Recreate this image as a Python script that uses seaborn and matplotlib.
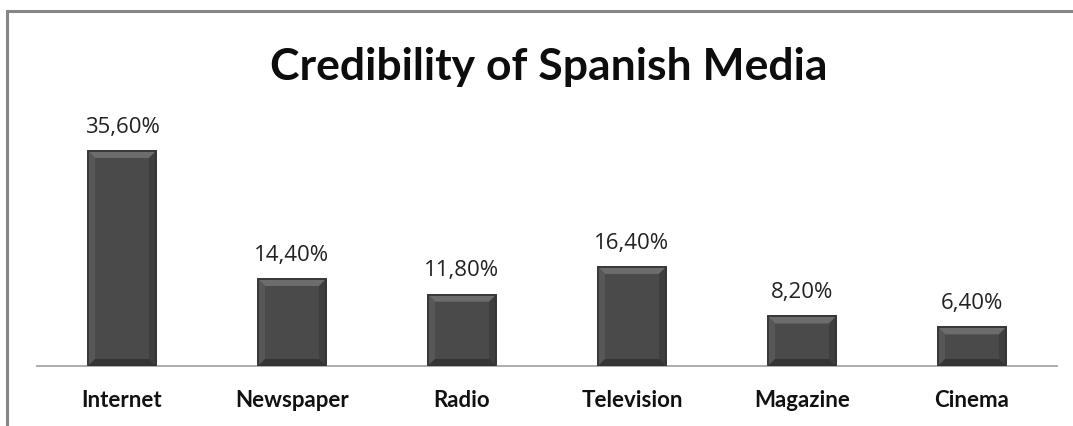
import matplotlib
matplotlib.use("Agg")
import matplotlib.pyplot as plt
import seaborn as sns
import pandas as pd
from matplotlib.patches import Rectangle, Polygon

categories = ["Internet", "Newspaper", "Radio", "Television", "Magazine", "Cinema"]
values = [35.6, 14.4, 11.8, 16.4, 8.2, 6.4]
labels = ["35,60%", "14,40%", "11,80%", "16,40%", "8,20%", "6,40%"]

df = pd.DataFrame({"media": categories, "value": values})

sns.set_theme(style="white")
plt.rcParams['font.family'] = ['Lato', 'DejaVu Sans']

W, H = 1073, 426
fig = plt.figure(figsize=(W / 100, H / 100), dpi=100)
ax = fig.add_axes([37 / W, 60 / H, 1020 / W, 241.6 / H])

sns.barplot(data=df, x="media", y="value", color="#4a4a4a", width=0.4,
            edgecolor="#333333", linewidth=1.2, saturation=1, ax=ax)

ax.set_xlim(-0.5, 5.5)
ax.set_ylim(0, 40)

# bevel effect derived from the drawn bars
px_x = 6 / 1020          # data units per pixel (x)
px_y = 40 / 241.6        # data units per pixel (y)
for p in list(ax.patches):
    x0, w, h = p.get_x(), p.get_width(), p.get_height()
    x1 = x0 + w
    dx, dy = 7 * px_x, 7 * px_y
    ax.add_patch(Polygon([(x0, h), (x1, h), (x1 - dx, h - dy), (x0 + dx, h - dy)],
                         closed=True, facecolor="#6c6c6c", edgecolor="none", zorder=3))
    ax.add_patch(Polygon([(x0, h), (x0 + dx, h - dy), (x0 + dx, dy), (x0, 0)],
                         closed=True, facecolor="#575757", edgecolor="none", zorder=3))
    ax.add_patch(Polygon([(x1, h), (x1 - dx, h - dy), (x1 - dx, dy), (x1, 0)],
                         closed=True, facecolor="#3e3e3e", edgecolor="none", zorder=3))
    ax.add_patch(Polygon([(x0, 0), (x1, 0), (x1 - dx, dy), (x0 + dx, dy)],
                         closed=True, facecolor="#353535", edgecolor="none", zorder=3))
    ax.add_patch(Rectangle((x0, 0), w, h, fill=False, edgecolor="#333333",
                           linewidth=1.2, zorder=4))

for i, (v, t) in enumerate(zip(values, labels)):
    ax.text(i, v + 2.2, t, ha="center", va="bottom", fontsize=16,
            color="#222222", family=["Open Sans", "DejaVu Sans"])

ax.set_xlabel("")
ax.set_ylabel("")
ax.set_yticks([])
ax.tick_params(axis="x", length=0, pad=17)
for lab in ax.get_xticklabels():
    lab.set_fontweight("bold")
    lab.set_fontsize(16)
    lab.set_color("#111111")
for s in ["top", "right", "left"]:
    ax.spines[s].set_visible(False)
ax.spines["bottom"].set_color("#a6a6a6")
ax.spines["bottom"].set_linewidth(1.3)

fig.text(549 / W, 1 - 67 / H, "Credibility of Spanish Media", ha="center",
         va="center", fontsize=32, fontweight="bold", color="#0d0d0d")

fig.patches.append(Rectangle((6.5 / W, -0.1), 1.2, 1 - 11 / H + 0.1,
                             transform=fig.transFigure, fill=False,
                             edgecolor="#868686", linewidth=2.2))

fig.savefig("out.png", dpi=100, facecolor="white")
